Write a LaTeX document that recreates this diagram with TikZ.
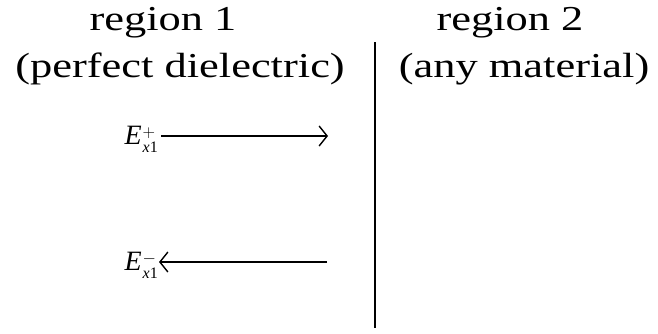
\documentclass[tikz,border=0pt]{standalone}
\usepackage{fontspec}
\setmainfont{Liberation Serif}
\usetikzlibrary{arrows.meta}
\newcommand{\wide}[1]{\scalebox{1.27}[1]{#1}}
\newcommand{\efield}[1]{\textit{E}\kern1pt\raisebox{-8pt}{\fontsize{16}{13}\selectfont\begin{tabular}[b]{@{}l@{}}#1\\\textit{x}1\end{tabular}}}
\begin{document}
\begin{tikzpicture}[x=1pt,y=-1pt,
  head/.style={font=\fontsize{35}{38}\selectfont, inner sep=0pt, anchor=base},
  lab/.style={font=\fontsize{28}{30}\selectfont, inner sep=0pt, anchor=base east},
  wave/.style={line width=1.4pt, -{Straight Barb[length=8pt,width=20pt,line width=1.4pt]}}]
\useasboundingbox (0,0) rectangle (658,333);
\node[head] (r1) at (163,30) {\wide{region 1}};
\node[head] (r2) at (510,30) {\wide{region 2}};
\node[head] (d1) at (180,77) {\wide{(perfect dielectric)}};
\node[head] (d2) at (524,77) {\wide{(any material)}};
\coordinate (top) at (375,42);
\coordinate (bot) at (375,328);
\draw[line width=1.4pt] (top) -- (bot);
\node[lab] (ep) at (158,144) {\efield{$+$}};
\node[lab] (em) at (158,270) {\efield{$-$}};
\coordinate (a0) at (161,136);
\coordinate (a1) at (328,136);
\coordinate (a2) at (159,262);
\coordinate (b2) at (327,262);
\draw[wave] (a0) -- (a1);
\draw[wave] (b2) -- (a2);
\end{tikzpicture}
\end{document}
